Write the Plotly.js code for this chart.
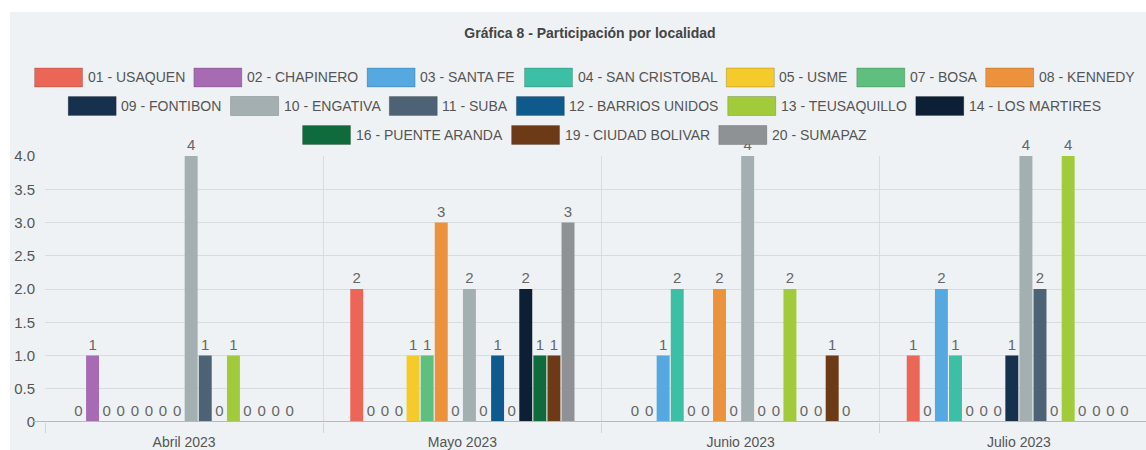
<!DOCTYPE html>
<html>
<head>
<meta charset="utf-8">
<script src="https://cdn.plot.ly/plotly-3.0.1.min.js"></script>
<style>
  html, body { margin: 0; padding: 0; background: #ffffff; overflow: hidden; width: 1146px; height: 450px; }
  #chart { position: absolute; left: 10px; top: 12px; width: 1160px; height: 438px; }
</style>
</head>
<body>
<div id="chart"></div>
<script>
// ---- Data ----
const meses = ['Abril 2023', 'Mayo 2023', 'Junio 2023', 'Julio 2023'];

const localidades = [
  '01 - USAQUEN', '02 - CHAPINERO', '03 - SANTA FE', '04 - SAN CRISTOBAL',
  '05 - USME', '07 - BOSA', '08 - KENNEDY', '09 - FONTIBON',
  '10 - ENGATIVA', '11 - SUBA', '12 - BARRIOS UNIDOS', '13 - TEUSAQUILLO',
  '14 - LOS MARTIRES', '16 - PUENTE ARANDA', '19 - CIUDAD BOLIVAR', '20 - SUMAPAZ'
];

const usaquen        = [0, 2, 0, 1];
const chapinero      = [1, 0, 0, 0];
const santaFe        = [0, 0, 1, 2];
const sanCristobal   = [0, 0, 2, 1];
const usme           = [0, 1, 0, 0];
const bosa           = [0, 1, 0, 0];
const kennedy        = [0, 3, 2, 0];
const fontibon       = [0, 0, 0, 1];
const engativa       = [4, 2, 4, 4];
const suba           = [1, 0, 0, 2];
const barriosUnidos  = [0, 1, 0, 0];
const teusaquillo    = [1, 0, 2, 4];
const losMartires    = [0, 2, 0, 0];
const puenteAranda   = [0, 1, 0, 0];
const ciudadBolivar  = [0, 1, 1, 0];
const sumapaz        = [0, 3, 0, 0];

const valores = [usaquen, chapinero, santaFe, sanCristobal, usme, bosa, kennedy, fontibon,
  engativa, suba, barriosUnidos, teusaquillo, losMartires, puenteAranda, ciudadBolivar, sumapaz];

const colores = [
  '#ec6657', '#a66bb3', '#56a9e0', '#3dbfa6',
  '#f5cb2b', '#5fbf7e', '#ec923d', '#17304d',
  '#a4afb1', '#4e6276', '#0f5a8c', '#a1cb3a',
  '#0d1f34', '#0f6b3b', '#6c3a17', '#8f9294'
];

const yTickVals = [0, 0.5, 1, 1.5, 2, 2.5, 3, 3.5, 4];
const yTickText = ['0', '0.5', '1.0', '1.5', '2.0', '2.5', '3.0', '3.5', '4.0'];

const legendRowCounts = [7, 6, 3];

// ---- Layout geometry (div pixels) ----
const W = 1160, H = 438;
const M = { l: 35, r: 12, t: 144, b: 28 };
const PW = W - M.l - M.r, PH = H - M.t - M.b;
const FONT = '"Liberation Sans", Arial, sans-serif';
const BG = '#eff2f4';
const GRID = '#d9dcdf';

function px2x(px) { return (px - 10 - M.l) / PW; }   // page px -> paper x
function py2y(py) { return (H - M.b - (py - 12)) / PH; } // page px -> paper y

// ---- Traces ----
const traces = localidades.map((name, i) => ({
  type: 'bar',
  name: name,
  x: meses,
  y: valores[i],
  text: valores[i].map(v => String(v)),
  textposition: 'outside',
  textfont: { family: FONT, size: 15, color: '#666666' },
  cliponaxis: false,
  marker: { color: colores[i], line: { width: 0 } },
  showlegend: false,
  hoverinfo: 'x+y+name'
}));

// ---- Custom legend (shapes + annotations) ----
const canvas = document.createElement('canvas');
const ctx = canvas.getContext('2d');
ctx.font = '14px "Liberation Sans", Arial, sans-serif';
const SW = 48, SH = 19, GAP_T = 5, GAP_I = 9;
const rowY = [77.5, 106, 135];
const centerX = 584.5;
const shapes = [];
const annotations = [];
let idx = 0;
legendRowCounts.forEach((count, r) => {
  const items = [];
  for (let k = 0; k < count; k++) {
    const i = idx + k;
    items.push({ i: i, tw: ctx.measureText(localidades[i]).width });
  }
  idx += count;
  const total = items.reduce((s, it) => s + SW + GAP_T + it.tw, 0) + GAP_I * (count - 1);
  let x = centerX - total / 2;
  const cy = rowY[r];
  items.forEach(it => {
    shapes.push({
      type: 'rect', xref: 'paper', yref: 'paper',
      x0: px2x(x), x1: px2x(x + SW), y0: py2y(cy + SH / 2), y1: py2y(cy - SH / 2),
      fillcolor: colores[it.i], line: { color: 'rgba(0,0,0,0.18)', width: 1 }
    });
    annotations.push({
      xref: 'paper', yref: 'paper', x: px2x(x + SW + GAP_T - 2), y: py2y(cy),
      xanchor: 'left', yanchor: 'middle', showarrow: false,
      text: localidades[it.i], font: { family: FONT, size: 14, color: '#555555' }
    });
    x += SW + GAP_T + it.tw + GAP_I;
  });
});

// baseline with tick extension
shapes.push({
  type: 'line', xref: 'paper', yref: 'y',
  x0: px2x(33), x1: 1, y0: 0, y1: 0,
  line: { color: '#b6b9bc', width: 2 }, layer: 'above'
});

const layout = {
  width: W, height: H,
  margin: M,
  paper_bgcolor: BG,
  plot_bgcolor: BG,
  font: { family: FONT, size: 14, color: '#555555' },
  title: {
    text: '<b>Gráfica 8 - Participación por localidad</b>',
    font: { family: FONT, size: 14, color: '#444444' },
    x: 0.5, xanchor: 'center', xref: 'container',
    y: 1 - 21 / H, yanchor: 'middle', yref: 'container'
  },
  barmode: 'group',
  bargap: 0.19,
  bargroupgap: 0.08,
  xaxis: {
    type: 'category',
    tickson: 'boundaries',
    showgrid: true, gridcolor: GRID, gridwidth: 1,
    ticks: 'outside', ticklen: 10, tickcolor: '#d2d5d8', tickwidth: 1,
    ticklabelstandoff: 10,
    tickfont: { family: FONT, size: 14, color: '#555555' },
    showline: false, zeroline: false, automargin: false, fixedrange: true
  },
  yaxis: {
    range: [0, 4],
    tickvals: yTickVals, ticktext: yTickText,
    showgrid: true, gridcolor: GRID, gridwidth: 1,
    ticks: 'outside', ticklen: 6, tickcolor: 'rgba(0,0,0,0)',
    tickfont: { family: FONT, size: 15, color: '#555555' },
    showline: false, zeroline: false, automargin: false, fixedrange: true
  },
  shapes: shapes,
  annotations: annotations,
  showlegend: false
};

Plotly.newPlot('chart', traces, layout, { displayModeBar: false, staticPlot: true });
</script>
</body>
</html>
